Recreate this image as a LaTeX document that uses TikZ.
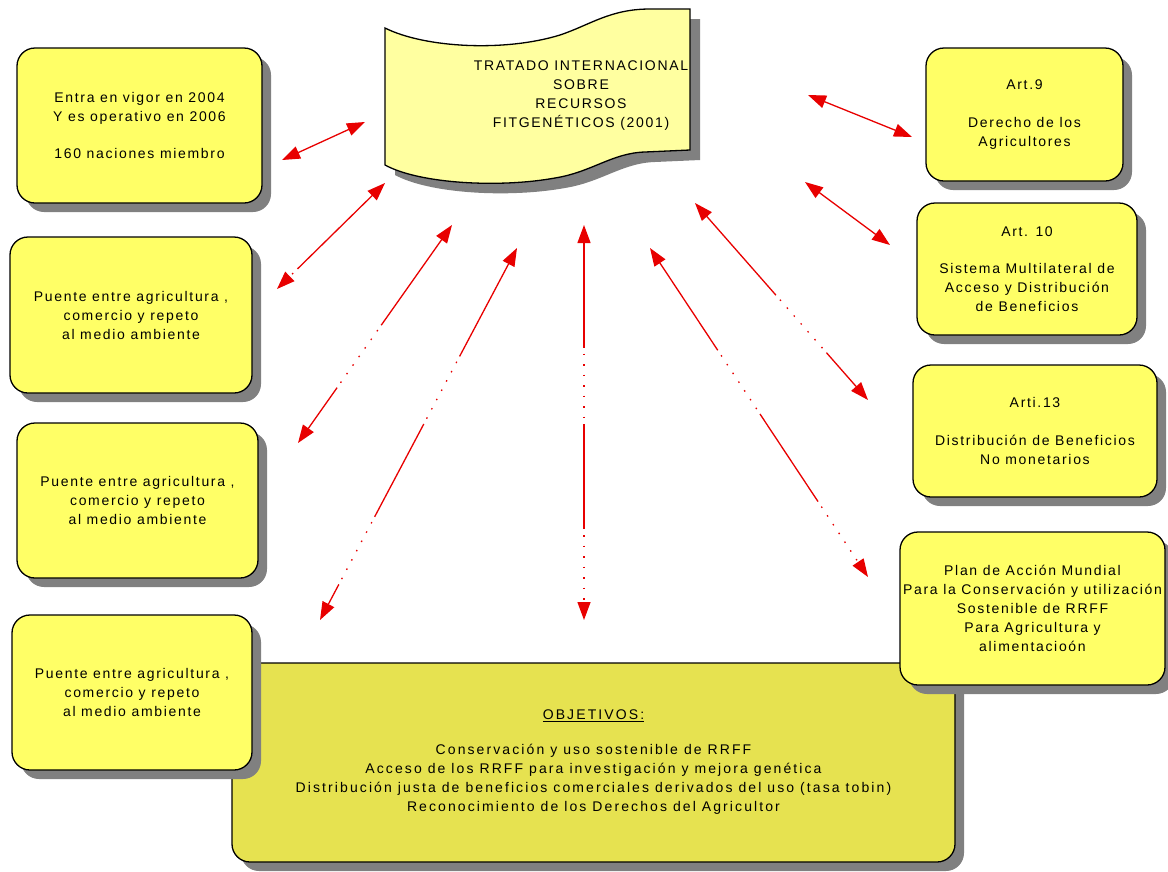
\documentclass[tikz,border=0pt]{standalone}
\usepackage{fontspec}
\setmainfont{Liberation Sans}
\usetikzlibrary{arrows.meta,shadows}
\definecolor{boxyellow}{RGB}{255,255,102}
\definecolor{objyellow}{RGB}{230,226,80}
\definecolor{scrollyellow}{RGB}{255,255,160}
\definecolor{shadowgray}{RGB}{128,128,128}
\definecolor{arrred}{RGB}{232,0,0}
\newcommand\boxfont{\fontsize{14}{19}\selectfont\addfontfeatures{LetterSpace=12}}
\newcommand\objfont{\fontsize{14}{19}\selectfont\addfontfeatures{LetterSpace=15}}
\tikzset{
  ybox/.style={draw=black, line width=1.3pt, fill=boxyellow, rounded corners=18pt,
    align=center, font=\boxfont, inner sep=0pt, outer sep=0pt,
    drop shadow={shadow xshift=9pt, shadow yshift=-9pt, fill=shadowgray, opacity=1}},
  objbox/.style={ybox, fill=objyellow, font=\objfont},
  arr/.style={{Triangle[length=18pt,width=13pt]}-{Triangle[length=18pt,width=13pt]},
    draw=arrred, line width=1.3pt},
  dd/.style={dash pattern=on 105pt off 6pt on 1.5pt off 9pt on 1.5pt off 9pt on 1.5pt off 9pt on 1.5pt off 9pt on 1.5pt off 9pt on 1.5pt off 9pt on 1.5pt off 6pt}
}
\begin{document}
\begin{tikzpicture}[x=1pt,y=-1pt]
\useasboundingbox (0,0) rectangle (1168,871);
\fill[white] (0,0) rectangle (1168,871);

% bottom objectives box
\node[objbox, minimum width=723pt, minimum height=199pt] (obj) at (593.5,762.5)
  {\underline{OBJETIVOS:}\\[16pt]Conservación y uso sostenible de RRFF\\Acceso de los RRFF para investigación y mejora genética\\Distribución justa de beneficios comerciales derivados del uso (tasa tobin)\\Reconocimiento de los Derechos del Agricultor};

% left boxes
\node[ybox, minimum width=245pt, minimum height=155pt] (entra) at (139.5,125.5)
  {Entra en vigor en 2004\\Y es operativo en 2006\\[18pt]160 naciones miembro};
\node[ybox, minimum width=242pt, minimum height=156pt] (p1) at (131,315)
  {Puente entre agricultura ,\\comercio y repeto\\al medio ambiente};
\node[ybox, minimum width=241pt, minimum height=155pt] (p2) at (137.5,500.5)
  {Puente entre agricultura ,\\comercio y repeto\\al medio ambiente};
\node[ybox, minimum width=240pt, minimum height=155pt] (p3) at (132,692.5)
  {Puente entre agricultura ,\\comercio y repeto\\al medio ambiente};

% right boxes
\node[ybox, minimum width=197pt, minimum height=133pt] (art9) at (1024.5,114.5)
  {Art.9\\[19pt]Derecho de los\\Agricultores};
\node[ybox, minimum width=220pt, minimum height=132pt] (art10) at (1027,269)
  {Art. 10\\[18pt]Sistema Multilateral de\\Acceso y Distribución\\de Beneficios};
\node[ybox, minimum width=244pt, minimum height=132pt] (art13) at (1035,431)
  {Arti.13\\[19pt]Distribución de Beneficios\\No monetarios};
\node[ybox, minimum width=265pt, minimum height=153pt] (plan) at (1032.5,608.5)
  {Plan de Acción Mundial\\Para la Conservación y utilización\\Sostenible de RRFF\\Para Agricultura y\\alimentacioón};

% scroll (banner)
\fill[shadowgray, shift={(10,10)}]
  (385,28) .. controls (425,48) and (505,52) .. (560,35) .. controls (590,25) and (610,9) .. (650,9)
  -- (690,9) -- (690,150) -- (645,152) .. controls (612,153) and (592,172) .. (555,178)
  .. controls (500,188) and (420,184) .. (385,165) -- cycle;
\filldraw[fill=scrollyellow, draw=black, line width=1.3pt]
  (385,28) .. controls (425,48) and (505,52) .. (560,35) .. controls (590,25) and (610,9) .. (650,9)
  -- (690,9) -- (690,150) -- (645,152) .. controls (612,153) and (592,172) .. (555,178)
  .. controls (500,188) and (420,184) .. (385,165) -- cycle;
\node[align=center, font=\boxfont, inner sep=0pt] (tratado) at (581,96)
  {TRATADO INTERNACIONAL\\SOBRE\\RECURSOS\\FITGENÉTICOS (2001)};

% arrow end points
\coordinate (a1s) at (365,122); \coordinate (a1e) at (282,160);
\coordinate (a2s) at (385,183); \coordinate (a2e) at (277,289);
\coordinate (a3s) at (452,225); \coordinate (a3e) at (298,443);
\coordinate (a4s) at (517,248); \coordinate (a4e) at (320,620);
\coordinate (a5s) at (584,225); \coordinate (a5e) at (584,620);
\coordinate (a6s) at (650,248); \coordinate (a6e) at (868,577);
\coordinate (a7s) at (695,203); \coordinate (a7e) at (868,400);
\coordinate (a8s) at (805,182); \coordinate (a8e) at (890,245);
\coordinate (a9s) at (808,95);  \coordinate (a9e) at (912,137);

\draw[arr] (a1s) -- (a1e);
\draw[arr,dd] (a2s) -- (a2e);
\draw[arr,dd] (a3s) -- (a3e);
\draw[arr,dd] (a4s) -- (a4e);
\draw[arr,dd] (a5s) -- (a5e);
\draw[arr,dd] (a6s) -- (a6e);
\draw[arr,dd] (a7s) -- (a7e);
\draw[arr] (a8s) -- (a8e);
\draw[arr] (a9s) -- (a9e);
\end{tikzpicture}
\end{document}
